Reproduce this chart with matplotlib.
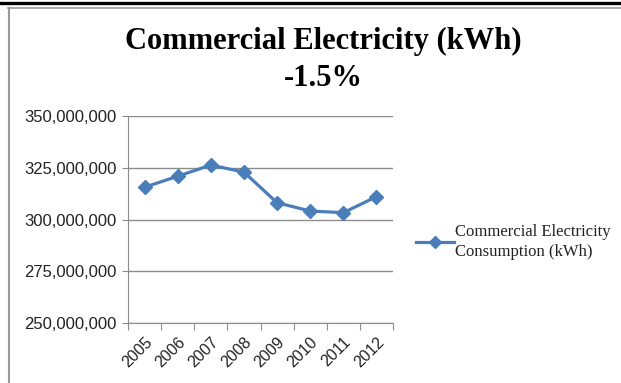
import matplotlib
matplotlib.use("Agg")
import matplotlib.pyplot as plt
from matplotlib.lines import Line2D
from matplotlib.ticker import FuncFormatter

years = ["2005", "2006", "2007", "2008", "2009", "2010", "2011", "2012"]
kwh = [315.6e6, 320.9e6, 326.3e6, 322.9e6, 308.1e6, 304.1e6, 303.3e6, 311.0e6]
y_ticks = [250e6, 275e6, 300e6, 325e6, 350e6]

blue = "#4A7EBB"
grid_grey = "#8c8c8c"

fig = plt.figure(figsize=(6.21, 3.83), dpi=100)
W, H = 621, 383

# page bits: black rule at top and grey frame of the chart box
fig.add_artist(Line2D([0, 1], [1 - 3 / H, 1 - 3 / H], color="black", lw=2.4))
fig.add_artist(Line2D([8 / W, 1], [1 - 7.5 / H, 1 - 7.5 / H], color="#999999", lw=1.2))
fig.add_artist(Line2D([8.5 / W, 8.5 / W], [0, 1 - 7.5 / H], color="#999999", lw=1.5))

# plot area in pixels: x 128..393, y 116..323
ax = fig.add_axes([128 / W, 1 - 323 / H, (393 - 128) / W, (323 - 116) / H])

x = list(range(len(years)))
ax.plot(x, kwh, color=blue, lw=2.3, marker="D", markersize=7,
        markerfacecolor=blue, markeredgecolor=blue,
        label="Commercial Electricity\nConsumption (kWh)")

ax.set_xlim(-0.5, len(years) - 0.5)
ax.set_ylim(y_ticks[0], y_ticks[-1])
ax.set_yticks(y_ticks)
ax.yaxis.set_major_formatter(FuncFormatter(lambda v, p: f"{int(v):,}"))
ax.grid(axis="y", color=grid_grey, lw=1.0)
ax.set_axisbelow(True)

# category boundaries get the tick marks, labels sit at the centres
ax.set_xticks([i - 0.5 for i in range(len(years) + 1)])
ax.set_xticklabels([])
ax.set_xticks(x, minor=True)
ax.set_xticklabels(years, minor=True, rotation=45, ha="right",
                   rotation_mode="anchor", fontsize=11.5,
                   family="Liberation Sans", color="#222222")
ax.tick_params(axis="x", which="major", length=5, color=grid_grey, direction="out")
ax.tick_params(axis="x", which="minor", length=0, pad=8)
ax.tick_params(axis="y", length=4, color=grid_grey, labelsize=12, pad=4)
for lab in ax.get_yticklabels():
    lab.set_family("Liberation Sans")
    lab.set_color("#222222")

for s in ["top", "right"]:
    ax.spines[s].set_visible(False)
for s in ["left", "bottom"]:
    ax.spines[s].set_color(grid_grey)

fig.text(323 / W, 1 - 41 / H, "Commercial Electricity (kWh)", ha="center",
         va="center", fontsize=22, fontweight="bold", family="Liberation Serif")
fig.text(323 / W, 1 - 78 / H, "-1.5%", ha="center", va="center",
         fontsize=22, fontweight="bold", family="Liberation Serif")

leg = fig.legend(loc="center left", bbox_to_anchor=(401 / W, 1 - 242 / H),
                 frameon=False, handlelength=2.3, handletextpad=0.05,
                 prop={"family": "Liberation Serif", "size": 12})
for t in leg.get_texts():
    t.set_linespacing(1.35)
    t.set_color("#222222")
for h in leg.legend_handles:
    h.set_markersize(6)

fig.savefig("out.png", dpi=100, facecolor="white")
